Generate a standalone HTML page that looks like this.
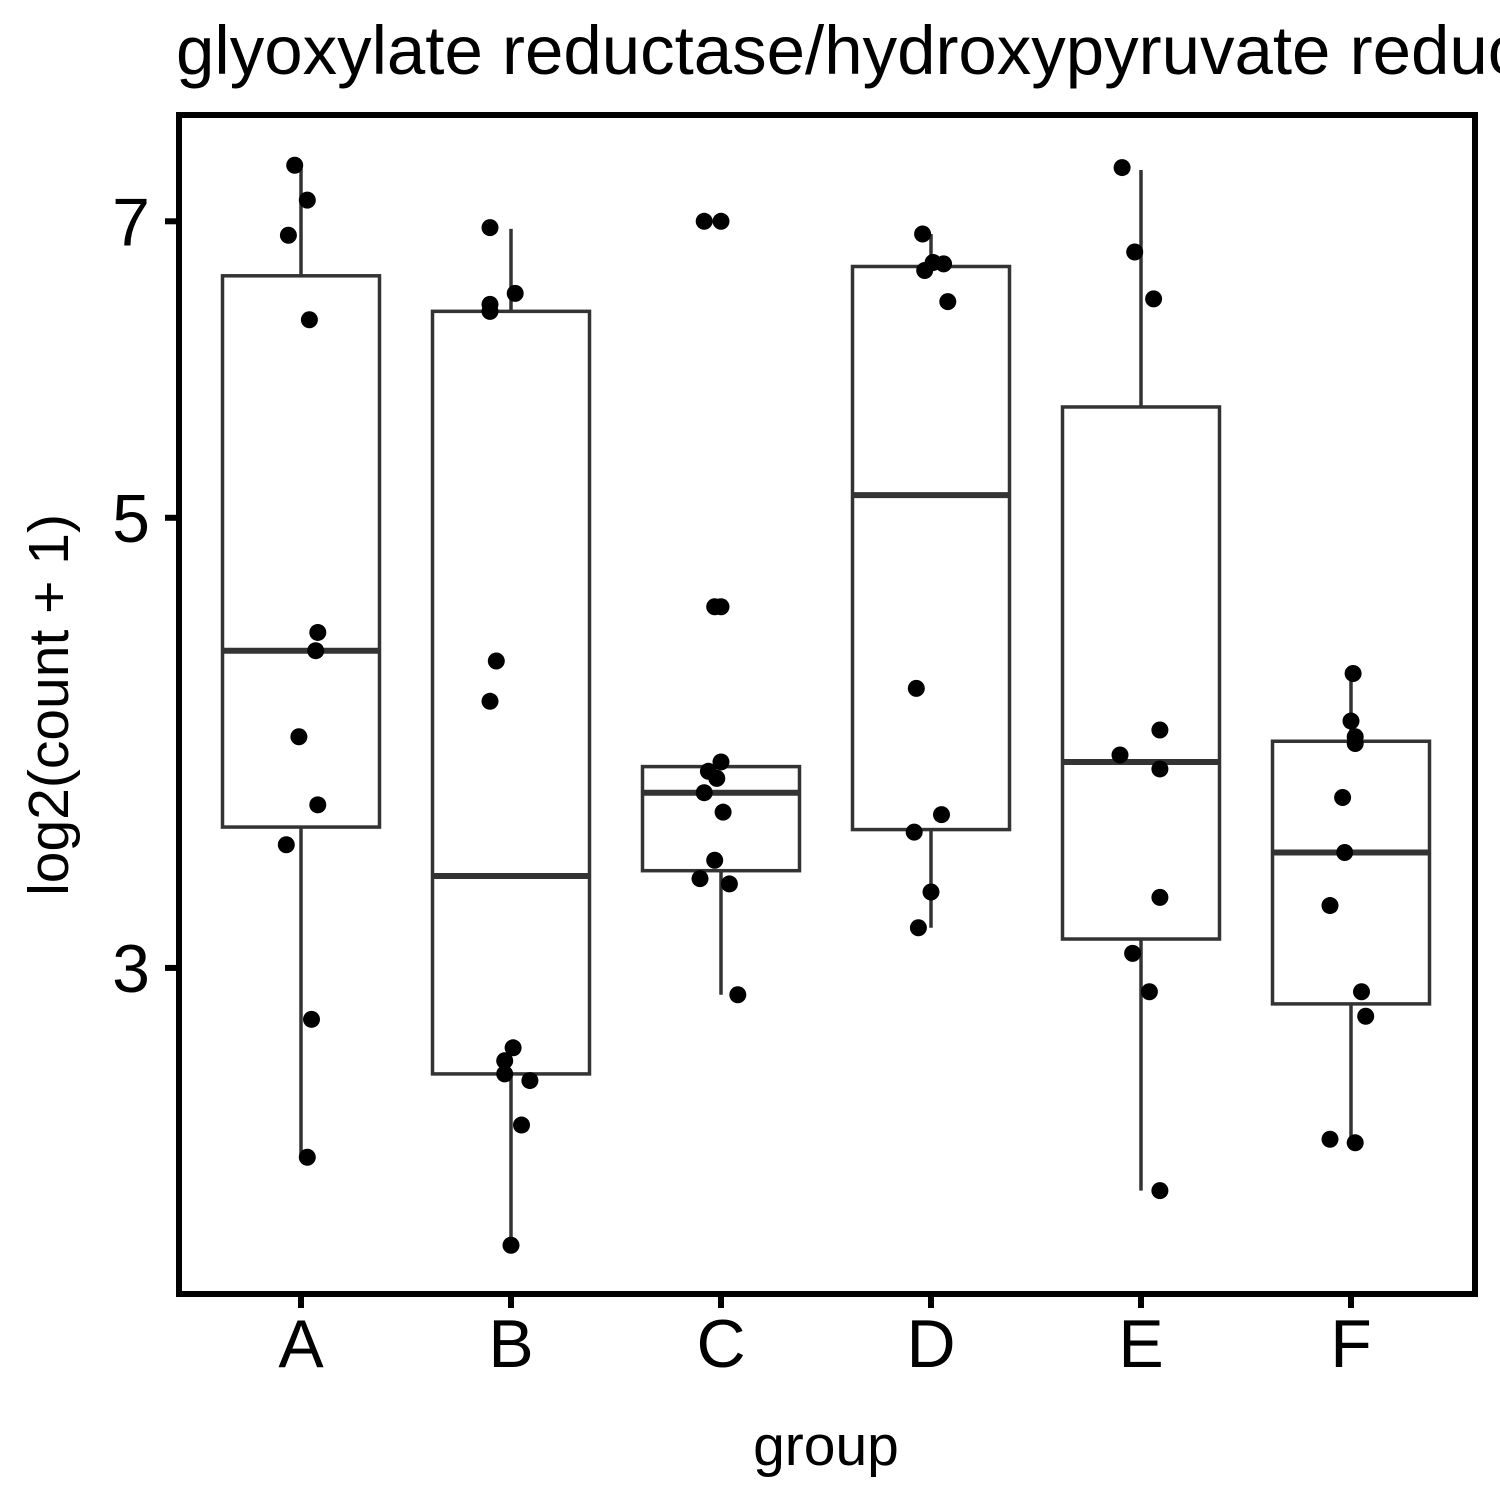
<!DOCTYPE html>
<html><head><meta charset="utf-8"><style>
html,body{margin:0;padding:0;background:#fff;}
svg{display:block;font-family:"Liberation Sans",Arial,sans-serif;}
</style></head><body>
<svg id="chart" width="1500" height="1500" xmlns="http://www.w3.org/2000/svg">
<text x="176" y="74" font-size="69">glyoxylate reductase/hydroxypyruvate reductase</text>
<g id="plot"></g>
<rect x="179" y="115" width="1296" height="1179" fill="none" stroke="#000" stroke-width="6"/>
<text x="826" y="1465" font-size="57" text-anchor="middle">group</text>
<text transform="translate(68,705) rotate(-90)" font-size="57" text-anchor="middle">log2(count + 1)</text>
</svg>
<script>
const categories = ["A","B","C","D","E","F"];
const yTicks = [3,5,7];
const q1 = [3.52,2.66,3.35,3.51,3.10,2.88];
const medians = [4.30,3.33,3.66,5.13,3.79,3.42];
const q3 = [6.58,6.32,3.77,6.65,5.67,3.88];
const whiskLo = [2.42,2.19,2.91,3.14,2.33,2.46];
const whiskHi = [7.46,6.94,3.77,6.90,7.42,4.19];
const ptsA = [7.46,7.17,6.89,6.26,4.39,4.30,3.90,3.61,3.45,2.83,2.42];
const jitA = [-0.03,0.03,-0.06,0.04,0.08,0.07,-0.01,0.08,-0.07,0.05,0.03];
const ptsB = [6.95,6.45,6.37,6.32,4.25,4.06,2.74,2.70,2.66,2.64,2.51,2.19];
const jitB = [-0.1,0.02,-0.1,-0.1,-0.07,-0.1,0.01,-0.03,-0.03,0.09,0.05,0.0];
const ptsC = [7.0,7.0,4.52,4.52,3.79,3.75,3.72,3.66,3.58,3.39,3.32,3.30,2.91];
const jitC = [-0.08,0.0,-0.03,0.0,0.0,-0.06,-0.02,-0.08,0.01,-0.03,-0.1,0.04,0.08];
const ptsD = [6.9,6.68,6.67,6.62,6.39,4.12,3.57,3.50,3.27,3.14];
const jitD = [-0.04,0.01,0.06,-0.03,0.08,-0.07,0.05,-0.08,0.0,-0.06];
const ptsE = [7.44,6.76,6.41,3.93,3.82,3.76,3.25,3.05,2.92,2.33];
const jitE = [-0.09,-0.03,0.06,0.09,-0.1,0.09,0.09,-0.04,0.04,0.09];
const ptsF = [4.19,3.97,3.90,3.87,3.64,3.42,3.22,2.92,2.84,2.47,2.46];
const jitF = [0.01,0.0,0.02,0.02,-0.04,-0.03,-0.1,0.05,0.07,-0.1,0.02];
const points = [ptsA,ptsB,ptsC,ptsD,ptsE,ptsF];
const jitters = [jitA,jitB,jitC,jitD,jitE,jitF];

const NS="http://www.w3.org/2000/svg";
const svg=document.getElementById('chart');
const g=document.getElementById('plot');
function yS(v){return 1936-2029*Math.log10(v);}
function xS(i){return 301+210*i;}
function mk(t,a,parent){const e=document.createElementNS(NS,t);for(const k in a)e.setAttribute(k,a[k]);(parent||g).appendChild(e);return e;}
const bw=157;
categories.forEach((c,i)=>{
  const x=xS(i);
  const wl=mk('line',{x1:x,x2:x,y1:yS(whiskLo[i]),y2:yS(q1[i]),stroke:'#333','stroke-width':3.5});
  
  
  const wh=mk('line',{x1:x,x2:x,y1:yS(q3[i]),y2:yS(whiskHi[i]),stroke:'#333','stroke-width':3.5});
  
  
  const r=mk('rect',{x:x-bw/2,y:yS(q3[i]),width:bw,height:yS(q1[i])-yS(q3[i]),fill:'#fff',stroke:'#333','stroke-width':3.5});
  
  
  const m=mk('line',{x1:x-bw/2,x2:x+bw/2,y1:yS(medians[i]),y2:yS(medians[i]),stroke:'#333','stroke-width':6});
  
  
});
categories.forEach((c,i)=>{
  points[i].forEach((v,j)=>{
    const p=mk('circle',{cx:xS(i+jitters[i][j]),cy:yS(v),r:8.5,fill:'#000'});
    
    
  });
  const t=mk('line',{x1:xS(i),x2:xS(i),y1:1294,y2:1308,stroke:'#000','stroke-width':6},svg);
  
  
  const l=mk('text',{x:xS(i),y:1367,'font-size':68,'text-anchor':'middle',fill:'#000'},svg);
  l.textContent=c;
  
  
});
yTicks.forEach(v=>{
  const y=yS(v);
  const t=mk('line',{x1:165,x2:179,y1:y,y2:y,stroke:'#000','stroke-width':6},svg);
  
  
  const l=mk('text',{x:150,y:y+24,'font-size':68,'text-anchor':'end',fill:'#000'},svg);
  l.textContent=v;
  
  
});
</script>
</body></html>
